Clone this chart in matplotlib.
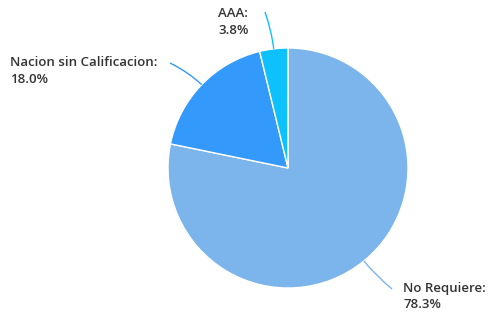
import numpy as np
import matplotlib.pyplot as plt
from matplotlib.path import Path
from matplotlib.patches import PathPatch

labels = ['No Requiere', 'Nacion sin Calificacion', 'AAA']
values = [78.3, 18.0, 3.8]
colors = ['#7cb5ec', '#3399fb', '#0dc1fc']

W, H = 489, 316
fig = plt.figure(figsize=(W / 100, H / 100), dpi=100)
ax = fig.add_axes([0, 0, 1, 1])
ax.set_xlim(0, W)
ax.set_ylim(0, H)
ax.set_aspect('equal')
ax.axis('off')

cx, cy, r = 288, H - 168, 120
wedges, _ = ax.pie(values, colors=colors, startangle=90, counterclock=False,
                   center=(cx, cy), radius=r, normalize=True,
                   wedgeprops=dict(edgecolor='white', linewidth=1))
ax.set_xlim(0, W)
ax.set_ylim(0, H)

# label anchor (text top-left) and connector end, in pixel-ish coords
label_pos = [(403, H - 282), (10, H - 56), (218, H - 7)]
conn_end = [(392, H - 289), (170, H - 63), (265, H - 12)]

for w, lab, val, col, (tx, ty), (ex, ey) in zip(wedges, labels, values, colors, label_pos, conn_end):
    mid = np.deg2rad((w.theta1 + w.theta2) / 2)
    sx, sy = cx + r * np.cos(mid), cy + r * np.sin(mid)
    kx, ky = cx + (r + 18) * np.cos(mid), cy + (r + 18) * np.sin(mid)
    p = Path([(sx, sy), (kx, ky), (ex, ey)], [Path.MOVETO, Path.CURVE3, Path.CURVE3])
    ax.add_patch(PathPatch(p, fill=False, edgecolor=col, lw=1))
    ax.text(tx, ty, f'{lab}:\n{val:.1f}%', ha='left', va='top', fontsize=9.5,
            color='#333333', fontweight='semibold', family='Open Sans', linespacing=1.35)

fig.savefig('out.png', dpi=100)
